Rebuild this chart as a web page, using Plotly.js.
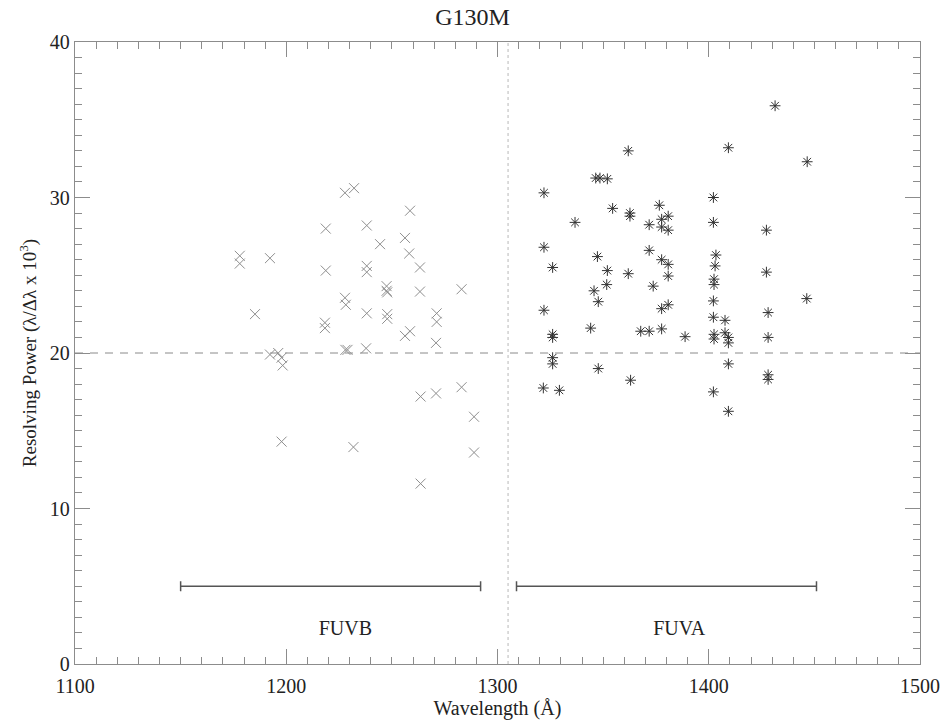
<!DOCTYPE html>
<html>
<head>
<meta charset="utf-8">
<script src="https://cdn.plot.ly/plotly-3.0.1.min.js"></script>
<style>html,body{margin:0;padding:0;background:#fff;}#chart{width:945px;height:723px;}</style>
</head>
<body>
<div id="chart"></div>
<script>
// FUVB detector segment measurements (wavelength in Å, resolving power in 10^3)
const fuvbWave = [1178,1178,1192.3,1185.2,1192.3,1196.2,1197.8,1198.3,1197.8,1218.7,1218.7,1218.3,1218.3,1227.8,1232.1,1258.6,1238.1,1244.4,1256.2,1258.2,1263.3,1238.1,1238.1,1247.5,1247.5,1247.8,1263.3,1283,1227.8,1228.2,1238.1,1247.8,1247.8,1271.2,1271.2,1258.6,1256.2,1270.9,1228,1229,1237.8,1263.6,1270.9,1283,1288.9,1231.8,1288.9,1263.6];
const fuvbPower = [26.25,25.75,26.1,22.5,19.9,20.0,19.7,19.2,14.3,28.0,25.3,21.95,21.6,30.3,30.6,29.15,28.2,27.0,27.4,26.4,25.5,25.6,25.2,24.3,24.0,23.9,23.95,24.1,23.55,23.1,22.55,22.5,22.2,22.55,22.0,21.4,21.1,20.65,20.2,20.2,20.3,17.2,17.4,17.8,15.9,13.95,13.6,11.6];

// FUVA detector segment measurements
const fuvaWave = [1361.9,1346.5,1348.5,1352,1322,1354.5,1362.7,1362.7,1376.6,1336.7,1371.8,1377.7,1380.8,1377.7,1380.8,1322,1371.8,1347.3,1377.7,1380.8,1380.8,1326.1,1352,1361.9,1351.7,1345.7,1373.7,1347.7,1377.7,1380.8,1322,1344.1,1326.1,1326.1,1367.8,1371.8,1377.7,1388.8,1326.1,1326.1,1347.7,1363,1321.7,1329.3,1431.4,1409.3,1446.6,1402.2,1402.2,1427.3,1403.4,1403,1402.5,1402.5,1427.3,1446.4,1402.2,1402.2,1407.7,1428.1,1402.5,1402.5,1407.7,1409.3,1409.3,1428.1,1409.3,1428.1,1428.1,1402.2,1409.3];
const fuvaPower = [33.0,31.25,31.25,31.2,30.3,29.3,29.0,28.8,29.5,28.4,28.25,28.6,28.8,28.1,27.9,26.8,26.6,26.2,26.0,25.7,24.95,25.5,25.3,25.1,24.4,24.0,24.3,23.3,22.85,23.1,22.75,21.6,21.2,21.0,21.4,21.4,21.55,21.05,19.7,19.3,19.0,18.25,17.75,17.6,35.9,33.2,32.3,30.0,28.4,27.9,26.3,25.6,24.75,24.4,25.2,23.5,23.35,22.3,22.1,22.6,21.2,20.9,21.3,21.0,20.65,21.0,19.3,18.6,18.3,17.5,16.25];

// Reference lines and detector coverage
const requirementLevel = 20;
const detectorGapWave = 1305;
const fuvbRange = [1150, 1292];
const fuvaRange = [1309, 1451];
const rangeBarLevel = 5;
const segmentLabels = ["FUVB", "FUVA"];
const segmentLabelWave = [1228, 1386];
const segmentLabelLevel = 2.2;
const xRange = [1100, 1500];
const yRange = [0, 40];

const serif = "Liberation Serif, Times New Roman, serif";
const frameColor = "#8c8c8c";

function rangeBar(r) {
  const c = (r[0] + r[1]) / 2;
  return {
    x: [c], y: [rangeBarLevel], type: "scatter", mode: "markers",
    marker: {size: 1, opacity: 0},
    error_x: {type: "data", symmetric: true, array: [(r[1] - r[0]) / 2], width: 5, thickness: 1.5, color: "#555"},
    hoverinfo: "skip", showlegend: false
  };
}

const traces = [
  {x: xRange, y: [requirementLevel, requirementLevel], type: "scatter", mode: "lines",
   xaxis: "x2", yaxis: "y2",
   line: {color: "#8a8a8a", width: 1, dash: "8px,7px"}, showlegend: false, hoverinfo: "skip"},
  {x: [detectorGapWave, detectorGapWave], y: yRange, type: "scatter", mode: "lines",
   line: {color: "#c4c4c4", width: 1.2, dash: "dot"}, showlegend: false, hoverinfo: "skip"},
  rangeBar(fuvbRange),
  rangeBar(fuvaRange),
  {x: fuvbWave, y: fuvbPower, type: "scatter", mode: "markers", showlegend: false,
   marker: {symbol: "x-thin-open", size: 10, color: "#8e8e8e", line: {color: "#8e8e8e", width: 1}}},
  {x: fuvaWave, y: fuvaPower, type: "scatter", mode: "markers", showlegend: false,
   marker: {symbol: "asterisk-open", size: 9, color: "#333", line: {color: "#333", width: 1}}},
  {x: segmentLabelWave, y: [segmentLabelLevel, segmentLabelLevel], text: segmentLabels,
   type: "scatter", mode: "text", textposition: "middle center",
   textfont: {family: serif, size: 20, color: "#222"}, showlegend: false, hoverinfo: "skip"}
];

const axisCommon = {
  showgrid: false, zeroline: false, showline: true, linecolor: frameColor, linewidth: 1.2,
  mirror: false, ticks: "inside", ticklen: 15, tickcolor: frameColor, tickwidth: 1,
  tickfont: {family: serif, size: 20, color: "#222"}
};

const layout = {
  width: 945, height: 723,
  margin: {l: 75, r: 25, t: 42, b: 59},
  paper_bgcolor: "#fff", plot_bgcolor: "#fff",
  title: {text: "G130M", font: {family: serif, size: 24, color: "#222"}, x: 0.5, xanchor: "center", y: 0.988, yanchor: "top"},
  xaxis: Object.assign({}, axisCommon, {
    range: xRange, dtick: 100, tick0: 1100, ticklabelstandoff: 4,
    minor: {dtick: 10, ticklen: 7, tickcolor: frameColor, ticks: "inside"},
    title: {text: "Wavelength (Å)", font: {family: serif, size: 20, color: "#222"}, standoff: 2}
  }),
  yaxis: Object.assign({}, axisCommon, {
    range: yRange, dtick: 10, tick0: 0,
    minor: {dtick: 1, ticklen: 7, tickcolor: frameColor, ticks: "inside"},
    title: {text: "Resolving Power (λ/Δλ x 10<sup>3</sup>)", font: {family: serif, size: 19, color: "#222"}, standoff: 8}
  }),
  xaxis2: Object.assign({}, axisCommon, {
    overlaying: "x", side: "top", range: xRange, dtick: 100, tick0: 1100, showticklabels: false,
    minor: {dtick: 10, ticklen: 7, tickcolor: frameColor, ticks: "inside"}
  }),
  yaxis2: Object.assign({}, axisCommon, {
    overlaying: "y", side: "right", range: yRange, dtick: 10, tick0: 0, showticklabels: false,
    minor: {dtick: 1, ticklen: 7, tickcolor: frameColor, ticks: "inside"}
  })
};

Plotly.newPlot("chart", traces, layout, {displayModeBar: false, staticPlot: true});
</script>
</body>
</html>
